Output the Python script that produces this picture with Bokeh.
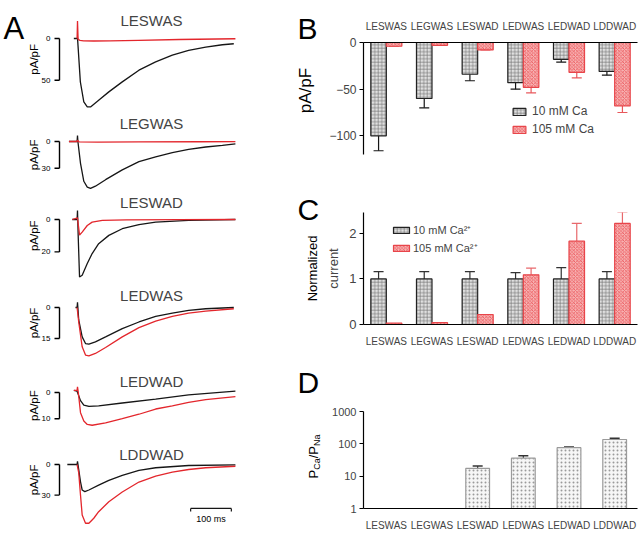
import math
from bokeh.plotting import figure
from bokeh.models import (Range1d, FactorRange, FixedTicker, Label, Legend, LegendItem,
                          Whisker, TeeHead, ColumnDataSource, BasicTickFormatter)
from bokeh.core.properties import value
from bokeh.transform import dodge
from bokeh.layouts import column, row
from bokeh.embed import file_html
from bokeh.resources import INLINE

FONT = "Liberation Sans"
RED = "#e3262c"
BLK = "#161616"

# ---------------- Panel A data (time in ms, inward current magnitude in pA/pF) ----------------
A_NAMES = ["LESWAS", "LEGWAS", "LESWAD", "LEDWAS", "LEDWAD", "LDDWAD"]
A_SCALE = [50, 30, 20, 15, 10, 30]

a1_t_blk = [-9, -1, 0, 7, 15.5, 24, 32, 52, 77, 110, 151, 192, 233, 273, 315, 356, 384]
a1_v_blk = [0, 0, -1, 52, 76, 82, 82, 74, 64, 52, 38, 28, 20, 14.3, 10.3, 7.5, 6.3]
a1_t_red = [-1, 0, 1.5, 6, 15, 40, 80, 150, 250, 388]
a1_v_red = [0, -21, 1, 2.2, 2.8, 3.0, 2.8, 2.2, 1.2, 0.3]

a2_t_blk = [-21, -1, 0, 1, 7.4, 15.5, 24, 32, 44, 69, 110, 151, 192, 233, 273, 315, 356, 388]
a2_v_blk = [0, 0, -6.6, 0, 24.5, 44.7, 51.3, 52.7, 50.2, 42.9, 31.9, 22.7, 17.3, 12.5, 8.8, 6.2, 4.4, 2.6]
a2_t_red = [-21, -1, 0, 4, 50, 150, 300, 388]
a2_v_red = [0, 0, -1.5, 0.5, 0.8, 0.5, 0.3, 0.2]

a3_t_blk = [-13, -1, 0, 1.7, 5, 11.5, 24, 36, 52, 77, 110, 151, 192, 273, 388]
a3_v_blk = [0, 0, -5.5, 10, 35.5, 34.4, 27.2, 21, 14.9, 9.8, 5.7, 3.1, 1.6, 0.6, 0]
a3_t_red = [-13, 0, 5, 11.5, 24, 36, 61, 120, 250, 388]
a3_v_red = [0, -1, 9.6, 7.8, 3.7, 1.6, 0.5, 0.2, 0.1, 0]

a4_t_blk = [-5, -1, 0, 3, 11.5, 19.7, 28, 44, 69, 110, 151, 192, 233, 273, 315, 384]
a4_v_blk = [0, 0, -2.5, 6, 14.2, 17.4, 17.7, 16.6, 14.2, 10.2, 7.0, 4.3, 2.7, 1.4, 0.6, 0]
a4_t_red = [-1, 3, 11.5, 19.7, 28, 44, 69, 110, 151, 192, 233, 273, 315, 384]
a4_v_red = [0, 7, 19, 23, 23.4, 22.2, 19.3, 14.2, 9.7, 6.6, 4.3, 2.7, 1.8, 0.6]

a5_t_blk = [-9, -1, 7.4, 15.5, 28, 52, 110, 192, 273, 388]
a5_v_blk = [-0.8, -0.5, 3.1, 4.8, 5.3, 5.1, 4.0, 2.5, 0.9, -0.5]
a5_t_red = [-9, -1, 0, 2, 7.4, 15.5, 24, 36, 69, 110, 151, 192, 233, 273, 315, 388]
a5_v_red = [-0.8, -0.8, -2.2, 0, 7.7, 10.9, 12.2, 12.5, 11.6, 10.0, 8.3, 6.3, 5.1, 3.8, 2.7, 1.6]

a6_t_blk = [-25, -1, 0, 3, 7.4, 11.5, 18, 28, 52, 77, 110, 151, 192, 273, 388]
a6_v_blk = [0, 0, -3, 5, 17, 25, 26.6, 25, 20.3, 15.5, 10.7, 5.8, 3.2, 1.0, 0.3]
a6_t_red = [-1, 3, 7.4, 11.5, 19.7, 28, 40, 52, 77, 110, 151, 192, 233, 273, 315, 388]
a6_v_red = [0, 8, 30, 49.5, 57.6, 57.6, 52.7, 46.3, 36.6, 26.9, 17.2, 11.4, 7.5, 4.9, 3.2, 1.7]

SCALE_MS = 100

# ---------------- Panels B, C, D data ----------------
CATS = ["LESWAS", "LEGWAS", "LESWAD", "LEDWAS", "LEDWAD", "LDDWAD"]
B_10 = [-100, -60, -34, -43, -18, -31]
B_10_ERR = [16, 10, 7, 7, 3, 4]
B_105 = [-4, -3, -8, -48, -32, -68]
B_105_ERR = [0, 0, 0, 6, 6, 7]

C_10 = [1, 1, 1, 1, 1, 1]
C_10_ERR = [0.16, 0.16, 0.16, 0.14, 0.25, 0.16]
C_105 = [0.03, 0.04, 0.22, 1.09, 1.83, 2.22]
C_105_ERR = [0, 0, 0, 0.15, 0.39, 0.25]

D_CATS = ["LESWAD", "LEDWAS", "LEDWAD", "LDDWAD"]
D_VAL = [17.5, 36, 76, 136]
D_ERR = [3, 7, 4, 14]


def clean(p):
    p.outline_line_color = None
    p.background_fill_color = "white"
    p.border_fill_color = "white"


def txt(p, x, y, s, size, angle=0.0, align="left", baseline="alphabetic", color="black"):
    p.text(x=[x], y=[y], text=[s], angle=angle, text_align=align, text_baseline=baseline,
           text_font=value(FONT), text_font_size=value(f"{size}px"), text_color=color)


# ---------------- Panel A (frames cover the whole column) ----------------
A_W = 297
A_H = [113, 80, 92, 83, 75, 90]
A_Z = [38, 28, 26, 22, 24, 21]          # px from top of each panel to the zero level
A_K = [0.834, 0.89, 1.62, 2.07, 2.62, 1.02]  # px per pA/pF
A_TY = [20, 10, 9, 10, 13, 11]          # title centre, px from top
PX_PER_MS = 0.407
T0_PX = 77                               # px from column left to stimulus time
XL = -T0_PX / PX_PER_MS
XR = XL + A_W / PX_PER_MS
AX_PX, TICK_PX, TLAB_PX, YLAB_PX = 59, 5, 50, 33


def t_at(px):
    return XL + px / PX_PER_MS


traces = [(a1_t_blk, a1_v_blk, a1_t_red, a1_v_red),
          (a2_t_blk, a2_v_blk, a2_t_red, a2_v_red),
          (a3_t_blk, a3_v_blk, a3_t_red, a3_v_red),
          (a4_t_blk, a4_v_blk, a4_t_red, a4_v_red),
          (a5_t_blk, a5_v_blk, a5_t_red, a5_v_red),
          (a6_t_blk, a6_v_blk, a6_t_red, a6_v_red)]

afigs = []
for i in range(6):
    H, z, k, sv = A_H[i], A_Z[i], A_K[i], A_SCALE[i]
    p = figure(width=A_W, height=H, output_backend="svg", toolbar_location=None,
               x_axis_type=None, y_axis_type=None,
               x_range=Range1d(XL, XR), y_range=Range1d(-(H - z) / k, z / k),
               min_border_left=0, min_border_right=0, min_border_top=0, min_border_bottom=0)
    clean(p)
    tb, vb, tr, vr = traces[i]
    p.line(tb, [-v for v in vb], line_color=BLK, line_width=1.3)
    p.line(tr, [-v for v in vr], line_color=RED, line_width=1.3)
    # calibration bracket (pA/pF)
    tax = t_at(AX_PX)
    ttk = t_at(AX_PX - TICK_PX)
    p.segment(x0=[tax], y0=[0], x1=[tax], y1=[-sv], line_color="black", line_width=1.4)
    p.segment(x0=[ttk, ttk], y0=[0, -sv], x1=[tax, tax], y1=[0, -sv], line_color="black", line_width=1.4)
    p.text(x=[t_at(TLAB_PX)] * 2, y=[0, -sv], text=["0", str(sv)], text_align="right",
           text_baseline="middle", text_font=value(FONT), text_font_size=value("8px"))
    txt(p, t_at(YLAB_PX), -sv / 2, "pA/pF", 11.5, angle=math.pi / 2, align="center", baseline="middle")
    p.add_layout(Label(x=151, y=H - A_TY[i], x_units="screen", y_units="screen", text=A_NAMES[i],
                       text_align="center", text_baseline="middle", text_font=FONT,
                       text_font_size="15px"))
    if i == 0:
        txt(p, t_at(3), (z - 28) / k, "A", 31)
    if i == 5:
        sx0 = 278
        ybar = -43.1
        p.segment(x0=[sx0], y0=[ybar], x1=[sx0 + SCALE_MS], y1=[ybar], line_color=BLK, line_width=1.2)
        p.segment(x0=[sx0, sx0 + SCALE_MS], y0=[ybar, ybar], x1=[sx0, sx0 + SCALE_MS],
                  y1=[ybar - 3, ybar - 3], line_color=BLK, line_width=1.2)
        txt(p, sx0 + SCALE_MS / 2, -53.9, f"{SCALE_MS} ms", 9, align="center", baseline="middle")
    afigs.append(p)

# ---------------- strip with panel letters and y titles for B, C, D ----------------
S_W = 26
S_H = 533
strip = figure(width=S_W, height=S_H, output_backend="svg", toolbar_location=None,
               x_axis_type=None, y_axis_type=None, x_range=Range1d(0, S_W), y_range=Range1d(S_H, 0),
               min_border_left=0, min_border_right=0, min_border_top=0, min_border_bottom=0)
clean(strip)
txt(strip, 0, 28, "B", 30)
txt(strip, 8, 90, "pA/pF", 17, angle=math.pi / 2, align="center", baseline="middle")
txt(strip, 0, 209, "C", 30)
txt(strip, 15, 268, "Normalized", 13, angle=math.pi / 2, align="center", baseline="middle")
txt(strip, 0, 382, "D", 30)
pieces = [("P", 13, 0), ("Ca", 9, 3), ("/P", 13, 0), ("Na", 9, 3)]
cw = {"P": 0.667, "C": 0.722, "a": 0.556, "/": 0.278, "N": 0.722}
ycur = 478
for s, fs, dx in pieces:
    txt(strip, 16 + dx, ycur, s, fs, angle=math.pi / 2, align="left", baseline="alphabetic")
    ycur -= sum(cw[c] for c in s) * fs

# ---------------- styles for bars ----------------
GRAY_BAR = dict(fill_color="#e0e0e0", hatch_pattern="+", hatch_color="#7a7a7a", hatch_scale=3.5,
                hatch_weight=0.7, line_color="#222222", line_width=1.2)
RED_BAR = dict(fill_color="#f7b3b3", hatch_pattern="x", hatch_color="#e8454a", hatch_scale=3.5,
               hatch_weight=0.7, line_color="#e8454a", line_width=1.2)
DOT_BAR = dict(fill_color="#f6f6f6", hatch_pattern=".", hatch_color="#9a9a9a", hatch_scale=4,
               hatch_weight=0.8, line_color="#9a9a9a", line_width=1.2)

R_W = 638 - A_W - S_W
R_LB = 34
R_RB = 1
OFF = 0.17
BW = 0.34


def style_axes(p, ysize, xsize, xstandoff):
    for ax in p.yaxis:
        ax.major_tick_out = 4
        ax.major_tick_in = 0
        ax.minor_tick_line_color = None
        ax.major_label_text_font = FONT
        ax.major_label_text_font_size = f"{ysize}px"
        ax.major_label_standoff = 3
        ax.axis_line_width = 1.2
        ax.major_tick_line_width = 1.2
        ax.axis_label_text_font = FONT
        ax.axis_label_text_font_style = "normal"
    for ax in p.xaxis:
        ax.major_tick_line_color = None
        ax.minor_tick_line_color = None
        ax.major_label_text_font = FONT
        ax.major_label_text_font_size = f"{xsize}px"
        ax.major_label_standoff = xstandoff
        ax.axis_line_width = 1.2
    p.grid.visible = False


# ---------------- Panel B ----------------
pb = figure(width=R_W, height=178, output_backend="svg", toolbar_location=None,
            x_range=FactorRange(*CATS), y_range=Range1d(-120, 0), x_axis_location="above",
            min_border_left=R_LB, min_border_right=R_RB, min_border_top=42, min_border_bottom=24)
clean(pb)
srcB = ColumnDataSource(dict(cat=CATS, v10=B_10, v105=B_105,
                             lo10=[v - e for v, e in zip(B_10, B_10_ERR)],
                             lo105=[v - e for v, e in zip(B_105, B_105_ERR)]))
rb1 = pb.vbar(x=dodge("cat", -OFF, range=pb.x_range), top=0, bottom="v10", width=BW, source=srcB, **GRAY_BAR)
rb2 = pb.vbar(x=dodge("cat", OFF, range=pb.x_range), top=0, bottom="v105", width=BW, source=srcB, **RED_BAR)
pb.add_layout(Whisker(source=srcB, base=dodge("cat", -OFF, range=pb.x_range), upper="v10", lower="lo10",
                      line_color=BLK, line_width=1.2, upper_head=None,
                      lower_head=TeeHead(size=10, line_color=BLK, line_width=1.2)))
pb.add_layout(Whisker(source=srcB, base=dodge("cat", OFF, range=pb.x_range), upper="v105", lower="lo105",
                      line_color="#e8585c", line_width=1.2, upper_head=None,
                      lower_head=TeeHead(size=10, line_color="#e8585c", line_width=1.2)))
pb.yaxis.ticker = FixedTicker(ticks=[0, -50, -100])
style_axes(pb, 12, 10, 5)
legB = Legend(items=[LegendItem(label="10 mM Ca", renderers=[rb1]),
                     LegendItem(label="105 mM Ca", renderers=[rb2])],
              location=(148, 18), glyph_width=16, glyph_height=9, label_height=12, spacing=4,
              padding=0, margin=0, label_text_font=FONT, label_text_font_size="12px",
              background_fill_alpha=0, border_line_color=None, label_standoff=5)
pb.add_layout(legB)

# ---------------- Panel C ----------------
pc = figure(width=R_W, height=178, output_backend="svg", toolbar_location=None,
            x_range=FactorRange(*CATS), y_range=Range1d(0, 2.46),
            min_border_left=R_LB, min_border_right=R_RB, min_border_top=34, min_border_bottom=32)
clean(pc)
srcC = ColumnDataSource(dict(cat=CATS, v10=C_10, v105=C_105,
                             hi10=[v + e for v, e in zip(C_10, C_10_ERR)]))
keep = [i for i, e in enumerate(C_105_ERR) if e > 0]
srcC2 = ColumnDataSource(dict(cat=[CATS[i] for i in keep], v105=[C_105[i] for i in keep],
                              hi105=[C_105[i] + C_105_ERR[i] for i in keep]))
pc.add_layout(Whisker(source=srcC, base=dodge("cat", -OFF, range=pc.x_range), lower="v10", upper="hi10",
                      line_color="#333333", line_width=1.2, lower_head=None,
                      upper_head=TeeHead(size=10, line_color="#333333", line_width=1.2)))
pc.add_layout(Whisker(source=srcC2, base=dodge("cat", OFF, range=pc.x_range), lower="v105", upper="hi105",
                      line_color="#e8686c", line_width=1.2, lower_head=None,
                      upper_head=TeeHead(size=10, line_color="#e8686c", line_width=1.2)))
rc1 = pc.vbar(x=dodge("cat", -OFF, range=pc.x_range), top="v10", bottom=0, width=BW, source=srcC, **GRAY_BAR)
rc2 = pc.vbar(x=dodge("cat", OFF, range=pc.x_range), top="v105", bottom=0, width=BW, source=srcC, **RED_BAR)
pc.yaxis.ticker = FixedTicker(ticks=[0, 1, 2])
style_axes(pc, 13, 10, 5)
pc.yaxis.axis_label = "current"
pc.yaxis.axis_label_text_font_size = "13px"
pc.yaxis.axis_label_standoff = 5
legC = Legend(items=[LegendItem(label="10 mM Ca²⁺", renderers=[rc1]),
                     LegendItem(label="105 mM Ca²⁺", renderers=[rc2])],
              location=(28, 69), glyph_width=20, glyph_height=8, label_height=12, spacing=3,
              padding=0, margin=0, label_text_font=FONT, label_text_font_size="11px",
              background_fill_alpha=0, border_line_color=None, label_standoff=2)
pc.add_layout(legC)

# ---------------- Panel D ----------------
pdd = figure(width=R_W, height=S_H - 178 - 178, output_backend="svg", toolbar_location=None,
             x_range=FactorRange(*CATS), y_range=Range1d(1, 1000), y_axis_type="log",
             min_border_left=R_LB, min_border_right=R_RB, min_border_top=55, min_border_bottom=17)
clean(pdd)
srcD = ColumnDataSource(dict(cat=D_CATS, v=D_VAL, hi=[v + e for v, e in zip(D_VAL, D_ERR)]))
pdd.add_layout(Whisker(source=srcD, base="cat", lower="v", upper="hi",
                       line_color="#333333", line_width=1.2, lower_head=None,
                       upper_head=TeeHead(size=10, line_color="#333333", line_width=1.5)))
pdd.vbar(x="cat", top="v", bottom=1, width=0.52, source=srcD, **DOT_BAR)
pdd.yaxis.ticker = FixedTicker(ticks=[1, 10, 100, 1000])
pdd.yaxis.formatter = BasicTickFormatter()
style_axes(pdd, 11, 10, 5)

layout = row(column(*afigs), strip, column(pb, pc, pdd))
open("out.html", "w").write(file_html(layout, INLINE))
